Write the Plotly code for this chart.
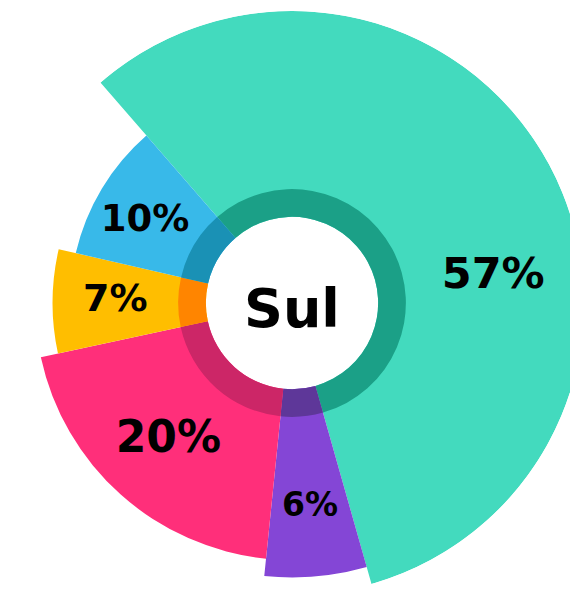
import plotly.graph_objects as go

# Regional share, clockwise from the top-left edge of the largest slice
categories = ["A", "B", "C", "D", "E"]
shares = [57, 6, 20, 7, 10]
labels = ["57%", "6%", "20%", "7%", "10%"]
center_label = "Sul"

colors = ["#43DABE", "#8446D6", "#FF2F7A", "#FFBE00", "#38B9E9"]
ring_colors = ["#1BA087", "#5E3799", "#CC2667", "#FF8500", "#1A91B5"]
label_sizes = [43, 33, 44, 38, 37]

# radial layout (axis units, 100 = edge of the polar area)
R_MAX = 100
HOLE = 29.5
RING = 39
STEP = 6

# angular extent of each slice
widths = [s * 360 / sum(shares) for s in shares]
mids, acc = [], 0.0
for w in widths:
    mids.append(acc + w / 2)
    acc += w

# each slice one step shorter than the previous one
outer = [R_MAX - STEP * i for i in range(len(shares))]

label_r = [(RING + o) / 2 for o in outer]
label_r[1] += 4
label_theta = list(mids)
label_theta[0] += 21  # keep the big slice's label inside the visible frame
label_theta[4] -= 2

fig = go.Figure()

fig.add_trace(go.Barpolar(
    theta=mids, width=widths,
    base=[HOLE] * len(shares), r=[o - HOLE for o in outer],
    marker=dict(color=colors, line=dict(width=0)),
    hoverinfo="skip",
))

fig.add_trace(go.Barpolar(
    theta=mids, width=widths,
    base=[HOLE] * len(shares), r=[RING - HOLE] * len(shares),
    marker=dict(color=ring_colors, line=dict(width=0)),
    hoverinfo="skip",
))

fig.add_trace(go.Scatterpolar(
    r=label_r, theta=label_theta, mode="text", text=labels,
    textfont=dict(family="DejaVu Sans", size=label_sizes, color="#000000", weight="bold"),
    hoverinfo="skip",
))

# the canvas is a little larger than the page so the big slice runs off the edges
W, H = 584, 596
dom_x = [0, 1]
dom_y = [1 / H, 585 / H]

fig.add_annotation(
    x=sum(dom_x) / 2, y=sum(dom_y) / 2, xref="paper", yref="paper",
    text=center_label, showarrow=False, yshift=-6,
    font=dict(family="DejaVu Sans", size=54, color="#000000", weight="bold"),
)

fig.update_layout(
    width=W, height=H,
    margin=dict(l=0, r=0, t=0, b=0),
    paper_bgcolor="white",
    showlegend=False,
    polar=dict(
        domain=dict(x=dom_x, y=dom_y),
        bgcolor="white",
        barmode="overlay",
        radialaxis=dict(range=[0, R_MAX], visible=False, showgrid=False),
        angularaxis=dict(direction="clockwise", rotation=131, visible=False,
                         showgrid=False, showline=False),
    ),
)

fig.write_html(
    "out.html",
    post_script="document.documentElement.style.overflow='hidden';"
                "document.body.style.overflow='hidden';"
                "document.body.style.margin='0';",
)
